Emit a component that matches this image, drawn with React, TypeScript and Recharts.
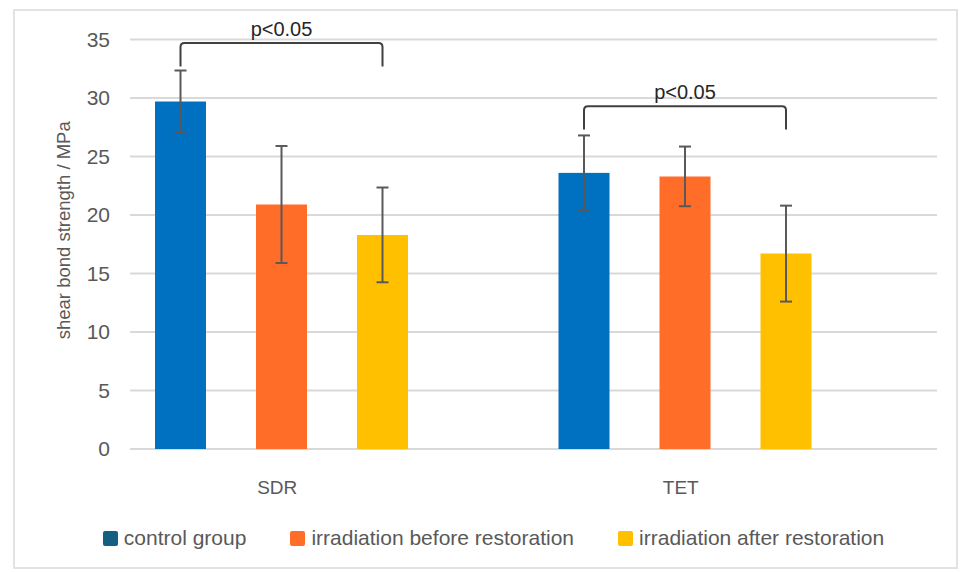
import React from 'react';
import { BarChart, Bar, XAxis, YAxis, CartesianGrid, ErrorBar, Legend } from 'recharts';

const categories = ['SDR', 'TET'];
const controlGroup = [29.7, 23.6];
const controlErr = [2.65, 3.2];
const beforeRestoration = [20.9, 23.3];
const beforeErr = [5.0, 2.55];
const afterRestoration = [18.3, 16.7];
const afterErr = [4.05, 4.1];
const bracketTop = [34.7, 29.3];
const bracketEnd = [32.7, 27.3];
const bracketLabels = ['p<0.05', 'p<0.05'];
const yTicks = [0, 5, 10, 15, 20, 25, 30, 35];

const seriesKeys = ['control', 'before', 'after'];
const seriesNames: Record<string, string> = {
  control: 'control group',
  before: 'irradiation before restoration',
  after: 'irradiation after restoration',
};

const data = categories.map((c, i) => ({
  name: c,
  control: controlGroup[i],
  controlErr: controlErr[i],
  before: beforeRestoration[i],
  beforeErr: beforeErr[i],
  after: afterRestoration[i],
  afterErr: afterErr[i],
  spacer: null,
  sigTop: bracketTop[i],
  sigEnd: bracketEnd[i],
  sigLabel: bracketLabels[i],
}));

const FONT = '"Liberation Sans", Arial, sans-serif';
const BLUE = '#0070C0';
const ORANGE = '#FF6D29';
const YELLOW = '#FFC000';
const LEGEND_SWATCH: Record<string, string> = { control: '#156082' };
const BAR_SIZE = 51;
const BAR_GAP = 50;
const ERR_COLOR = '#595959';

const ControlShape = (props: any) => {
  const { x, y, width, height, payload } = props;
  if (!height || !payload) return null;
  const base = y + height;
  const ppu = height / payload.control;
  const yTop = base - payload.sigTop * ppu;
  const yEnd = base - payload.sigEnd * ppu;
  const x1 = x + width / 2;
  const x2 = x1 + 2 * (width + BAR_GAP);
  const r = 4;
  const d = `M${x1},${yEnd} L${x1},${yTop + r} Q${x1},${yTop} ${x1 + r},${yTop} L${x2 - r},${yTop} Q${x2},${yTop} ${x2},${yTop + r} L${x2},${yEnd}`;
  return (
    <g>
      <rect x={x} y={y} width={width} height={height} fill={BLUE} />
      <path d={d} fill="none" stroke="#404040" strokeWidth={2} />
      <text x={(x1 + x2) / 2} y={yTop - 7} textAnchor="middle" fontSize={20} fill="#262626" fontFamily={FONT}>
        {payload.sigLabel}
      </text>
    </g>
  );
};

const XTick = (props: any) => {
  const { x, y, payload } = props;
  return (
    <text x={x - 54.5} y={y} dy={37} textAnchor="middle" fontSize={19} fill="#595959" fontFamily={FONT}>
      {payload.value}
    </text>
  );
};

const YTitle = (props: any) => {
  const { viewBox } = props;
  const cx = 63;
  const cy = viewBox.y + viewBox.height / 2 - 14;
  return (
    <text x={cx} y={cy} transform={`rotate(-90 ${cx} ${cy})`} textAnchor="middle" dominantBaseline="central" fontSize={18.5} fill="#595959" fontFamily={FONT}>
      shear bond strength / MPa
    </text>
  );
};

const renderLegend = (props: any) => {
  const payload = (props.payload || [])
    .filter((e: any) => e.type !== 'none' && seriesKeys.includes(e.dataKey))
    .sort((a: any, b: any) => seriesKeys.indexOf(a.dataKey) - seriesKeys.indexOf(b.dataKey));
  return (
    <div style={{ display: 'flex', justifyContent: 'center', alignItems: 'center', gap: 44, fontFamily: FONT, fontSize: 21, color: '#595959', height: 28 }}>
      {payload.map((e: any) => (
        <div key={e.dataKey} style={{ display: 'flex', alignItems: 'center', gap: 6 }}>
          <span style={{ display: 'inline-block', width: 15, height: 15, borderRadius: 2, background: LEGEND_SWATCH[e.dataKey] || e.color }} />
          <span>{e.value}</span>
        </div>
      ))}
    </div>
  );
};

export default function App() {
  return (
    <div style={{ position: 'absolute', left: 0, top: 0, width: 960, height: 572, background: '#fff' }}>
      <div style={{ position: 'absolute', left: 13, top: 9, width: 945, height: 560, border: '2px solid #e2e2e2', boxSizing: 'border-box' }} />
      <BarChart
        width={960}
        height={572}
        data={data}
        margin={{ top: 39.5, right: 23, bottom: 93, left: 50 }}
        barSize={BAR_SIZE}
        barGap={BAR_GAP}
        barCategoryGap={0}
      >
        <CartesianGrid vertical={false} stroke="#d9d9d9" strokeWidth={2} />
        <XAxis dataKey="name" axisLine={false} tickLine={false} tick={<XTick />} interval={0} />
        <YAxis
          width={80}
          domain={[0, 35]}
          ticks={yTicks}
          axisLine={false}
          tickLine={false}
          tickMargin={14}
          tick={{ fontSize: 21, fill: '#595959', fontFamily: FONT }}
          label={<YTitle />}
        />
        <Legend
          layout="vertical"
          align="center"
          verticalAlign="middle"
          itemSorter={null as any}
          content={renderLegend}
          wrapperStyle={{ top: 524, left: 27, width: 933 }}
        />
        <Bar dataKey="control" name={seriesNames.control} fill={BLUE} shape={<ControlShape />} isAnimationActive={false}>
          <ErrorBar dataKey="controlErr" width={6} stroke={ERR_COLOR} strokeWidth={2} direction="y" />
        </Bar>
        <Bar dataKey="before" name={seriesNames.before} fill={ORANGE} isAnimationActive={false}>
          <ErrorBar dataKey="beforeErr" width={6} stroke={ERR_COLOR} strokeWidth={2} direction="y" />
        </Bar>
        <Bar dataKey="after" name={seriesNames.after} fill={YELLOW} isAnimationActive={false}>
          <ErrorBar dataKey="afterErr" width={6} stroke={ERR_COLOR} strokeWidth={2} direction="y" />
        </Bar>
        <Bar dataKey="spacer" legendType="none" fill="transparent" isAnimationActive={false} />
      </BarChart>
    </div>
  );
}
